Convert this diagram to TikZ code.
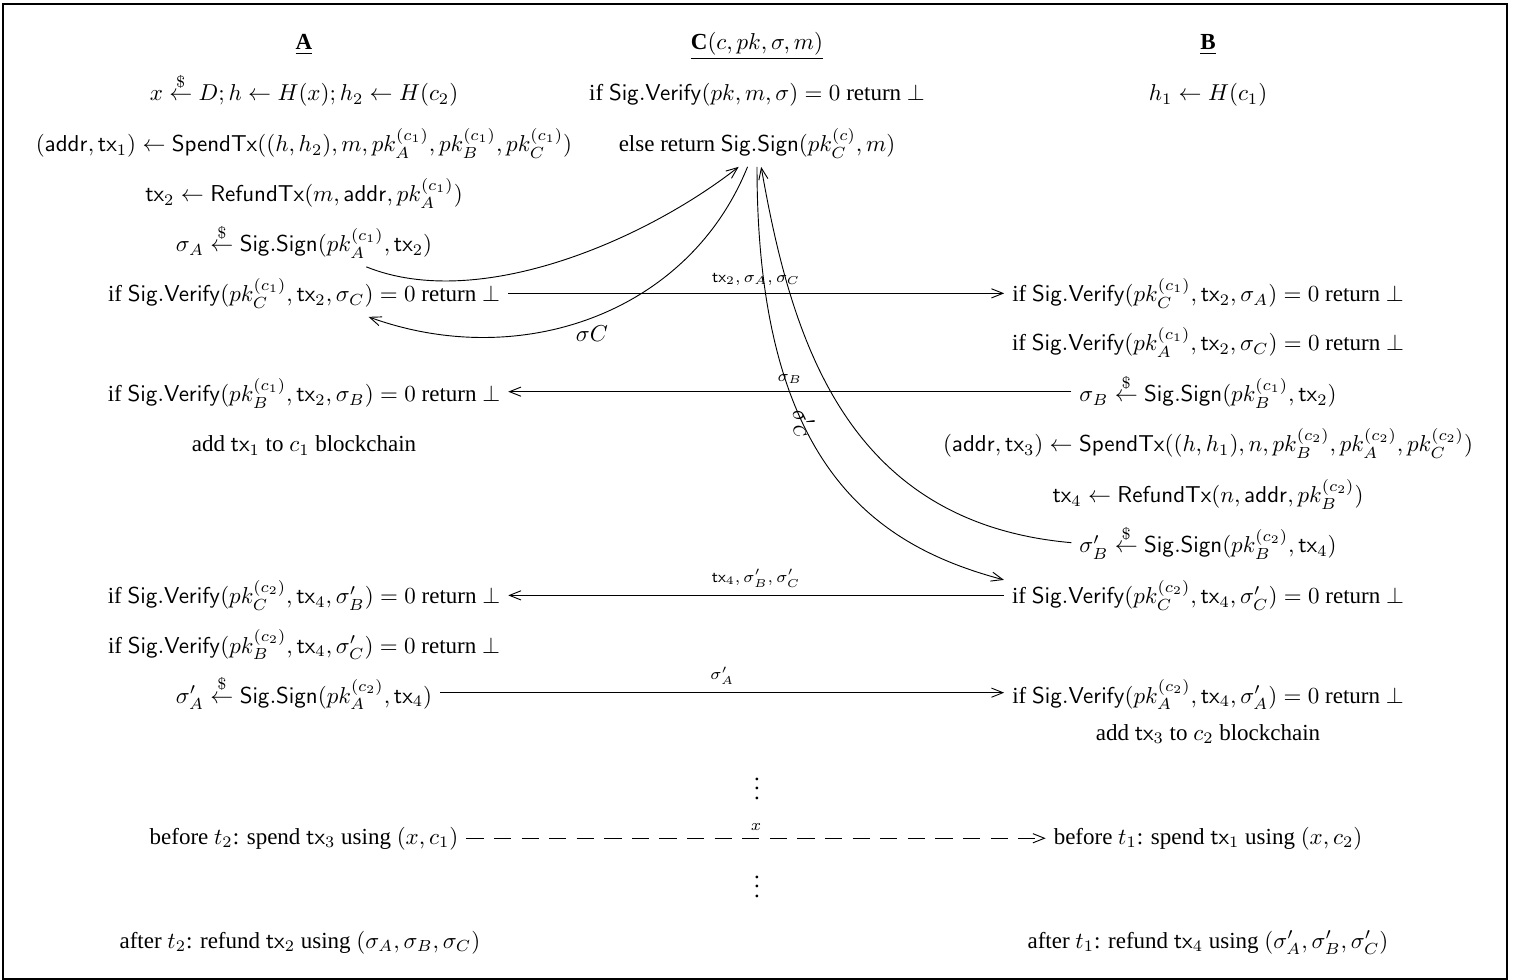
\documentclass[tikz,border=0pt]{standalone}
\usepackage{amsmath}
\usepackage[no-math]{fontspec}
\setmainfont{Liberation Serif}
\usetikzlibrary{arrows.meta}
\newcommand{\rsf}[1]{\mathsf{#1}}
\newcommand{\sampl}{\stackrel{\$}{\leftarrow}}
\begin{document}
\begin{tikzpicture}[x=0.435pt,y=0.435pt,
  txt/.style={anchor=base},
  lab/.style={font=\scriptsize},
  msg/.style={-{Straight Barb[length=5pt,width=4pt]}},
  every node/.style={inner sep=3.33pt}]
\useasboundingbox (0,0) rectangle (1525,-980);
\draw[line width=0.5pt] (3,-4) rectangle (1507,-979);
% headers
\node[txt] (hA) at (304,-50) {\underline{\textbf{A}}};
\node[txt] (hC) at (757,-50) {\underline{\textbf{C}$(c, pk, \sigma, m)$}};
\node[txt] (hB) at (1208,-50) {\underline{\textbf{B}}};
% column A
\node[txt] (a1) at (304,-101) {$x \sampl D; h \leftarrow H(x); h_2 \leftarrow H(c_2)$};
\node[txt] (a2) at (304,-152) {$(\rsf{addr}, \rsf{tx}_1) \leftarrow \rsf{SpendTx}((h, h_2), m, pk_A^{(c_1)}, pk_B^{(c_1)}, pk_C^{(c_1)})$};
\node[txt] (a3) at (304,-202) {$\rsf{tx}_2 \leftarrow \rsf{RefundTx}(m, \rsf{addr}, pk_A^{(c_1)})$};
\node[txt] (a4) at (304,-252) {$\sigma_A \sampl \rsf{Sig.Sign}(pk_A^{(c_1)}, \rsf{tx}_2)$};
\node[txt] (a5) at (304,-302) {if $\rsf{Sig.Verify}(pk_C^{(c_1)}, \rsf{tx}_2, \sigma_C) = 0$ return $\bot$};
\node[txt] (a7) at (304,-402) {if $\rsf{Sig.Verify}(pk_B^{(c_1)}, \rsf{tx}_2, \sigma_B) = 0$ return $\bot$};
\node[txt] (a8) at (304,-452) {add $\rsf{tx}_1$ to $c_1$ blockchain};
\node[txt] (a11) at (304,-604) {if $\rsf{Sig.Verify}(pk_C^{(c_2)}, \rsf{tx}_4, \sigma'_B) = 0$ return $\bot$};
\node[txt] (a12) at (304,-653) {if $\rsf{Sig.Verify}(pk_B^{(c_2)}, \rsf{tx}_4, \sigma'_C) = 0$ return $\bot$};
\node[txt] (a13) at (304,-703) {$\sigma'_A \sampl \rsf{Sig.Sign}(pk_A^{(c_2)}, \rsf{tx}_4)$};
\node[txt] (a15) at (304,-844) {before $t_2$: spend $\rsf{tx}_3$ using $(x, c_1)$};
\node[txt] (a16) at (300,-948) {after $t_2$: refund $\rsf{tx}_2$ using $(\sigma_A, \sigma_B, \sigma_C)$};
% column C
\node[txt] (c1) at (757,-101) {if $\rsf{Sig.Verify}(pk, m, \sigma) = 0$ return $\bot$};
\node[txt] (c2) at (757,-152) {else return $\rsf{Sig.Sign}(pk_C^{(c)}, m)$};
\node (d1) at (757,-782) {$\vdots$};
\node (d2) at (757,-880) {$\vdots$};
% column B
\node[txt] (b1) at (1208,-101) {$h_1 \leftarrow H(c_1)$};
\node[txt] (b5) at (1208,-302) {if $\rsf{Sig.Verify}(pk_C^{(c_1)}, \rsf{tx}_2, \sigma_A) = 0$ return $\bot$};
\node[txt] (b6) at (1208,-351) {if $\rsf{Sig.Verify}(pk_A^{(c_1)}, \rsf{tx}_2, \sigma_C) = 0$ return $\bot$};
\node[txt] (b7) at (1208,-402) {$\sigma_B \sampl \rsf{Sig.Sign}(pk_B^{(c_1)}, \rsf{tx}_2)$};
\node[txt] (b8) at (1208,-452) {$(\rsf{addr}, \rsf{tx}_3) \leftarrow \rsf{SpendTx}((h, h_1), n, pk_B^{(c_2)}, pk_A^{(c_2)}, pk_C^{(c_2)})$};
\node[txt] (b9) at (1208,-503) {$\rsf{tx}_4 \leftarrow \rsf{RefundTx}(n, \rsf{addr}, pk_B^{(c_2)})$};
\node[txt] (b10) at (1208,-553) {$\sigma'_B \sampl \rsf{Sig.Sign}(pk_B^{(c_2)}, \rsf{tx}_4)$};
\node[txt] (b11) at (1208,-604) {if $\rsf{Sig.Verify}(pk_C^{(c_2)}, \rsf{tx}_4, \sigma'_C) = 0$ return $\bot$};
\node[txt] (b13) at (1208,-703) {if $\rsf{Sig.Verify}(pk_A^{(c_2)}, \rsf{tx}_4, \sigma'_A) = 0$ return $\bot$};
\node[txt] (b14) at (1208,-740) {add $\rsf{tx}_3$ to $c_2$ blockchain};
\node[txt] (b15) at (1208,-844) {before $t_1$: spend $\rsf{tx}_1$ using $(x, c_2)$};
\node[txt] (b16) at (1208,-948) {after $t_1$: refund $\rsf{tx}_4$ using $(\sigma'_A, \sigma'_B, \sigma'_C)$};
% horizontal messages
\draw[msg] (a5.east) -- node[lab, above] {$\rsf{tx}_2, \sigma_A, \sigma_C$} (a5.east -| b5.west);
\draw[msg] (b7.west) -- node[lab, above] {$\sigma_B$} (b7.west -| a7.east);
\draw[msg] (b11.west) -- node[lab, above] {$\rsf{tx}_4, \sigma'_B, \sigma'_C$} (b11.west -| a11.east);
\draw[msg] (a13.east) -- node[lab, above] {$\sigma'_A$} (a13.east -| b13.west);
\draw[msg, dash pattern=on 7.5pt off 4.5pt] (a15.east) -- node[lab, above] {$x$} (a15.east -| b15.west);
% curves to and from C
\draw[msg] (a4) to[out=-22, in=-142, looseness=0.8] (c2.232);
\draw[msg] (c2) to[out=-112, in=-20] node[below] {$\sigma C$} (a5);
\draw[msg] (b10.west) to[out=175, in=-80, out looseness=1.2, in looseness=0.9] (c2);
\draw[msg] (c2) to[out=-90, in=165, out looseness=1.6, in looseness=0.7] node[sloped, pos=0.38] {$\sigma'_C$} ([yshift=-3.5pt]b11.north west);
\end{tikzpicture}
\end{document}
